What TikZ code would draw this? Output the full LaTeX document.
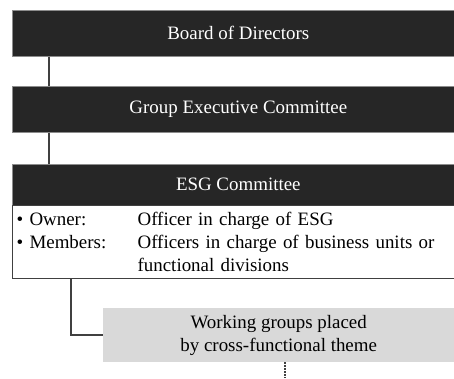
\documentclass[tikz,border=0pt]{standalone}
\usepackage{fontspec}
\setmainfont{Liberation Serif}
\usepackage{tikz}
\usetikzlibrary{calc,positioning}

\definecolor{boxdark}{HTML}{262626}
\definecolor{linkgray}{HTML}{404040}
\definecolor{wgfill}{HTML}{D9D9D9}

\begin{document}
\begin{tikzpicture}[x=1bp,y=-1bp,font=\fontsize{19}{23}\selectfont]
			\useasboundingbox (0,0) rectangle (454,378);
			\clip (0,0) rectangle (454,378);

			\begin{scope}[every node/.style={anchor=north west,fill=boxdark,draw=black!45,line width=0.6bp,
				text=white,inner sep=0pt,minimum width=452bp}]
				\node[minimum height=46bp] (board) at (12,10) {Board of Directors};
				\node[minimum height=46bp] (exec) at (12,86) {Group Executive Committee};
				\node[minimum height=41bp] (esg) at (12,164) {ESG Committee};
			\end{scope}

			\node[anchor=north west,draw=linkgray,line width=1.2bp,fill=white,inner xsep=4bp,inner ysep=0pt,
				text width=444bp,minimum height=73bp,align=left] (esgbody) at (12,205)
				{\makebox[121bp][l]{\textbullet\ Owner:}Officer in charge of ESG\\
				\makebox[121bp][l]{\textbullet\ Members:}Officers in charge of business units or\\
				\hspace*{121bp}functional divisions};

			\node[anchor=north west,fill=wgfill,inner sep=0pt,minimum width=351bp,minimum height=54bp,
				align=center] (wg) at (103,308) {Working groups placed\\by cross-functional theme};
			\coordinate (more) at (285,378);

			\begin{scope}[every path/.style={draw=linkgray,line width=2bp}]
				\path ([xshift=37bp]board.south west) -- ([xshift=37bp]exec.north west);
				\path ([xshift=37bp]exec.south west) -- ([xshift=37bp]esg.north west);
				\path ([xshift=59bp]esgbody.south west) |- (wg.west);
				\path[line width=1.5bp,dash pattern=on 1.2bp off 1.8bp] (wg.south -| more) -- (more);
			\end{scope}
		\end{tikzpicture}
\end{document}
